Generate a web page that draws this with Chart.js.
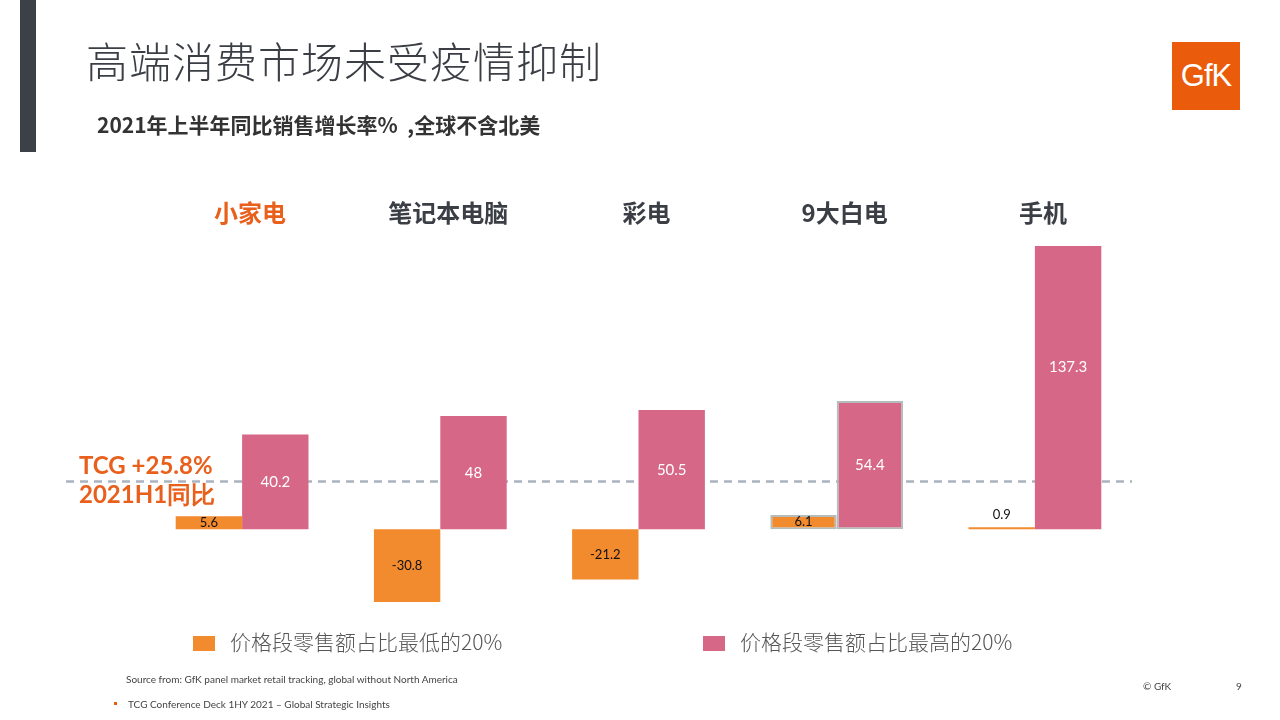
<!DOCTYPE html>
<html>
<head>
<meta charset="utf-8">
<script src="https://cdn.jsdelivr.net/npm/chart.js@4"></script>
<style>
  body { margin: 0; background: #fff; }
  #slide { position: relative; width: 1280px; height: 720px; overflow: hidden; background: #fff;
           font-family: "Noto Sans CJK SC", "Noto Sans", sans-serif; }
  #chart { position: absolute; left: 0; top: 0; }
  .abs { position: absolute; white-space: nowrap; }
  #sidebar { left: 20px; top: 0; width: 16px; height: 152px; background: #3c4047; }
  #title { left: 86px; top: 29px; font-size: 42px; font-weight: 300; color: #3b3f45; letter-spacing: 1px; }
  #subtitle { left: 97px; top: 109px; font-size: 21px; font-weight: 700; color: #333; }
  #logo { left: 1172px; top: 42px; width: 68px; height: 68px; background: #ea5b0c; color: #fff;
          font-family: "Liberation Sans", sans-serif; font-size: 31px; text-align: center; line-height: 68px; letter-spacing: -1px; }
  #tcg { left: 79px; top: 450px; font-family: Lato, sans-serif; font-weight: 700; font-size: 24px; line-height: 29px; color: #e8601c; }
  .legend { top: 626px; font-size: 21px; font-weight: 300; color: #555; }
  .legend span { display: inline-block; width: 22px; height: 15px; margin-right: 15px; vertical-align: -1px; }
  .small { font-family: Lato, sans-serif; font-size: 10px; color: #444; }
</style>
</head>
<body>
<div id="slide">
  <canvas id="chart" width="1280" height="720"></canvas>
  <div class="abs" id="sidebar"></div>
  <div class="abs" id="title">高端消费市场未受疫情抑制</div>
  <div class="abs" id="subtitle">2021年上半年同比销售增长率%&nbsp; ,全球不含北美</div>
  <div class="abs" id="logo">GfK</div>
  <div class="abs" id="tcg">TCG +25.8%<br>2021H1同比</div>
  <div class="abs legend" id="legendLow" style="left:193px"></div>
  <div class="abs legend" id="legendHigh" style="left:703px"></div>
  <div class="abs small" style="left:126px; top:673px">Source from: GfK panel market retail tracking, global without North America</div>
  <div class="abs" style="left:114px; top:702px; width:3px; height:3px; background:#ea5b0c"></div>
  <div class="abs small" style="left:128px; top:698px">TCG Conference Deck 1HY 2021 – Global Strategic Insights</div>
  <div class="abs small" style="left:1143px; top:680px">© GfK</div>
  <div class="abs small" style="left:1236px; top:680px">9</div>
</div>
<script>
// Categories and series (growth %, 2021 H1 vs 2020 H1)
const categories = ['小家电', '笔记本电脑', '彩电', '9大白电', '手机'];
const lowestTier = [5.6, -30.8, -21.2, 6.1, 0.9];
const highestTier = [40.2, 48, 50.5, 54.4, 137.3];
const seriesNames = ['价格段零售额占比最低的20%', '价格段零售额占比最高的20%'];
const tcgLevel = 20.3;   // where the dashed TCG line sits on the value axis

const orange = '#f28a2e';
const pink = '#d66787';
const categoryColors = ['#e8601c', '#3b3f45', '#3b3f45', '#3b3f45', '#3b3f45'];

// legend
document.getElementById('legendLow').innerHTML = '<span style="background:' + orange + '"></span>' + seriesNames[0];
document.getElementById('legendHigh').innerHTML = '<span style="background:' + pink + '"></span>' + seriesNames[1];

// gray outline only around the 9大白电 pair, as on the slide
function outline(i) { return i === 3 ? '#b4bcbc' : 'rgba(0,0,0,0)'; }
function outlineWidth(i) { return i === 3 ? 2 : 0; }

const slidePlugin = {
    id: 'slide',
    beforeDatasetsDraw(chart) {
        // dashed TCG line behind the bars
        const ctx = chart.ctx;
        const y = chart.scales.y.getPixelForValue(tcgLevel);
        ctx.save();
        ctx.strokeStyle = '#aab3be';
        ctx.lineWidth = 2.5;
        ctx.setLineDash([8, 6]);
        ctx.beginPath();
        ctx.moveTo(66, y);
        ctx.lineTo(chart.chartArea.right - 2, y);
        ctx.stroke();
        ctx.restore();
    },
    afterDatasetsDraw(chart) {
        const ctx = chart.ctx;
        ctx.save();
        ctx.textAlign = 'center';
        ctx.textBaseline = 'middle';

        // value labels
        chart.data.datasets.forEach((ds, di) => {
            const meta = chart.getDatasetMeta(di);
            meta.data.forEach((bar, i) => {
                const v = ds.data[i];
                let y = (bar.y + bar.base) / 2;
                if (Math.abs(bar.base - bar.y) < 12) y = Math.min(bar.y, bar.base) - 12;
                ctx.font = di === 0 ? '13px Lato' : '15px Lato';
                ctx.fillStyle = di === 0 ? '#111' : '#fff';
                ctx.fillText(String(v), bar.x, y);
            });
        });

        // category headings
        ctx.font = 'bold 24px "Noto Sans CJK SC"';
        categories.forEach((c, i) => {
            ctx.fillStyle = categoryColors[i];
            ctx.fillText(c, chart.scales.x.getPixelForValue(i) + 8, 213);
        });
        ctx.restore();
    }
};

const chart = new Chart(document.getElementById('chart').getContext('2d'), {
    type: 'bar',
    data: {
        labels: categories,
        datasets: [
            {
                label: seriesNames[0],
                data: lowestTier,
                backgroundColor: orange,
                borderColor: categories.map((c, i) => outline(i)),
                borderWidth: categories.map((c, i) => outlineWidth(i)),
                borderSkipped: false
            },
            {
                label: seriesNames[1],
                data: highestTier,
                backgroundColor: pink,
                borderColor: categories.map((c, i) => outline(i)),
                borderWidth: categories.map((c, i) => outlineWidth(i)),
                borderSkipped: false
            }
        ]
    },
    options: {
        responsive: false,
        animation: false,
        layout: { padding: { left: 143, right: 146, top: 246, bottom: 108 } },
        categoryPercentage: 0.67,
        barPercentage: 1.0,
        scales: {
            x: { display: false },
            y: { display: false, min: -35, max: 120 }
        },
        plugins: {
            legend: { display: false },
            tooltip: { enabled: false }
        }
    },
    plugins: [slidePlugin]
});
</script>
</body>
</html>
